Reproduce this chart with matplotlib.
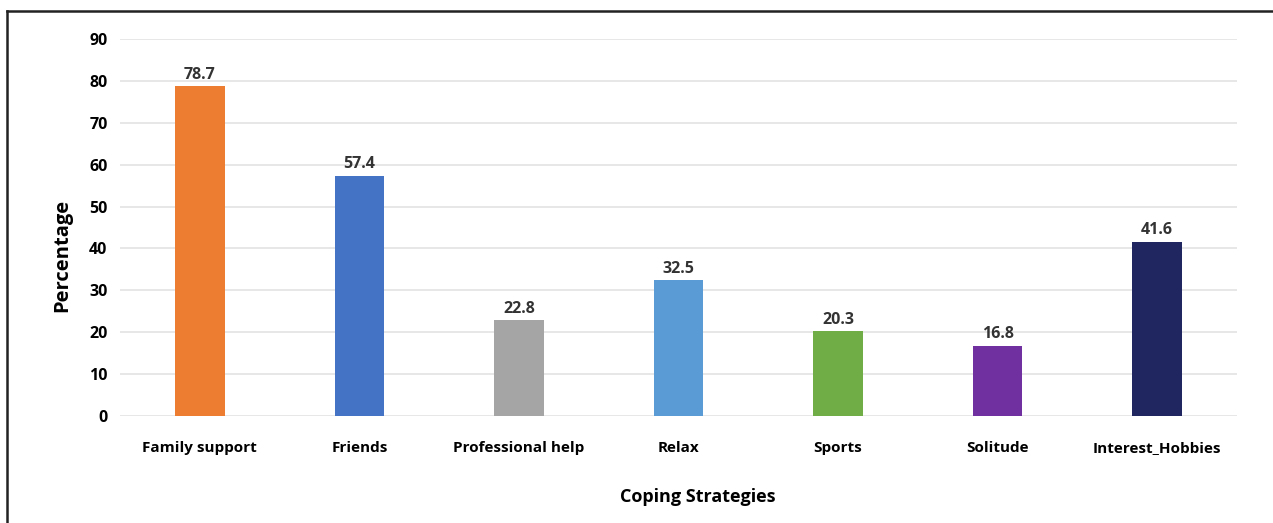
import matplotlib
matplotlib.use("Agg")
import matplotlib.pyplot as plt
from matplotlib.lines import Line2D

categories = ["Family support", "Friends", "Professional help", "Relax", "Sports", "Solitude", "Interest_Hobbies"]
values = [78.7, 57.4, 22.8, 32.5, 20.3, 16.8, 41.6]
colors = ["#ED7D31", "#4472C4", "#A5A5A5", "#5B9BD5", "#70AD47", "#7030A0", "#1F2660"]
yticks = [0, 10, 20, 30, 40, 50, 60, 70, 80, 90]

plt.rcParams['font.family'] = ['Open Sans', 'DejaVu Sans']
plt.rcParams['font.weight'] = 'bold'

fig = plt.figure(figsize=(12.73, 5.23), dpi=100)
ax = fig.add_axes([120/1273, 107/523, (1237-120)/1273, (416-39)/523])

x = list(range(len(categories)))
ax.bar(x, values, width=0.31, color=colors, zorder=3)
for xi, v in zip(x, values):
    ax.text(xi, v + 0.8, f"{v}", ha='center', va='bottom', fontsize=11.5, fontweight='bold', color='#333333')

ax.set_xlim(-0.5, len(categories) - 0.5)
ax.set_ylim(0, 90)
ax.set_yticks(yticks)
ax.set_xticks(x)
ax.set_xticklabels(categories, fontsize=11, fontweight='bold')
ax.tick_params(axis='y', labelsize=11.5, length=0, pad=9)
ax.tick_params(axis='x', length=0, pad=18)
ax.grid(axis='y', color='#E3E3E3', linewidth=1.2, zorder=0)
for s in ax.spines.values():
    s.set_visible(False)
ax.set_ylabel("Percentage", fontsize=14.5, fontweight='bold', labelpad=12)
ax.yaxis.label.set_y(0.427)
ax.set_xlabel("Coping Strategies", fontsize=13, fontweight='bold', labelpad=24)
ax.xaxis.label.set_x(0.517)

fig.add_artist(Line2D([7/1273, 7/1273], [0, 1 - 11/523], transform=fig.transFigure, color='#222222', linewidth=1.8))
fig.add_artist(Line2D([7/1273, 1], [1 - 11/523, 1 - 11/523], transform=fig.transFigure, color='#222222', linewidth=1.8))

fig.savefig("out.png", dpi=100)
